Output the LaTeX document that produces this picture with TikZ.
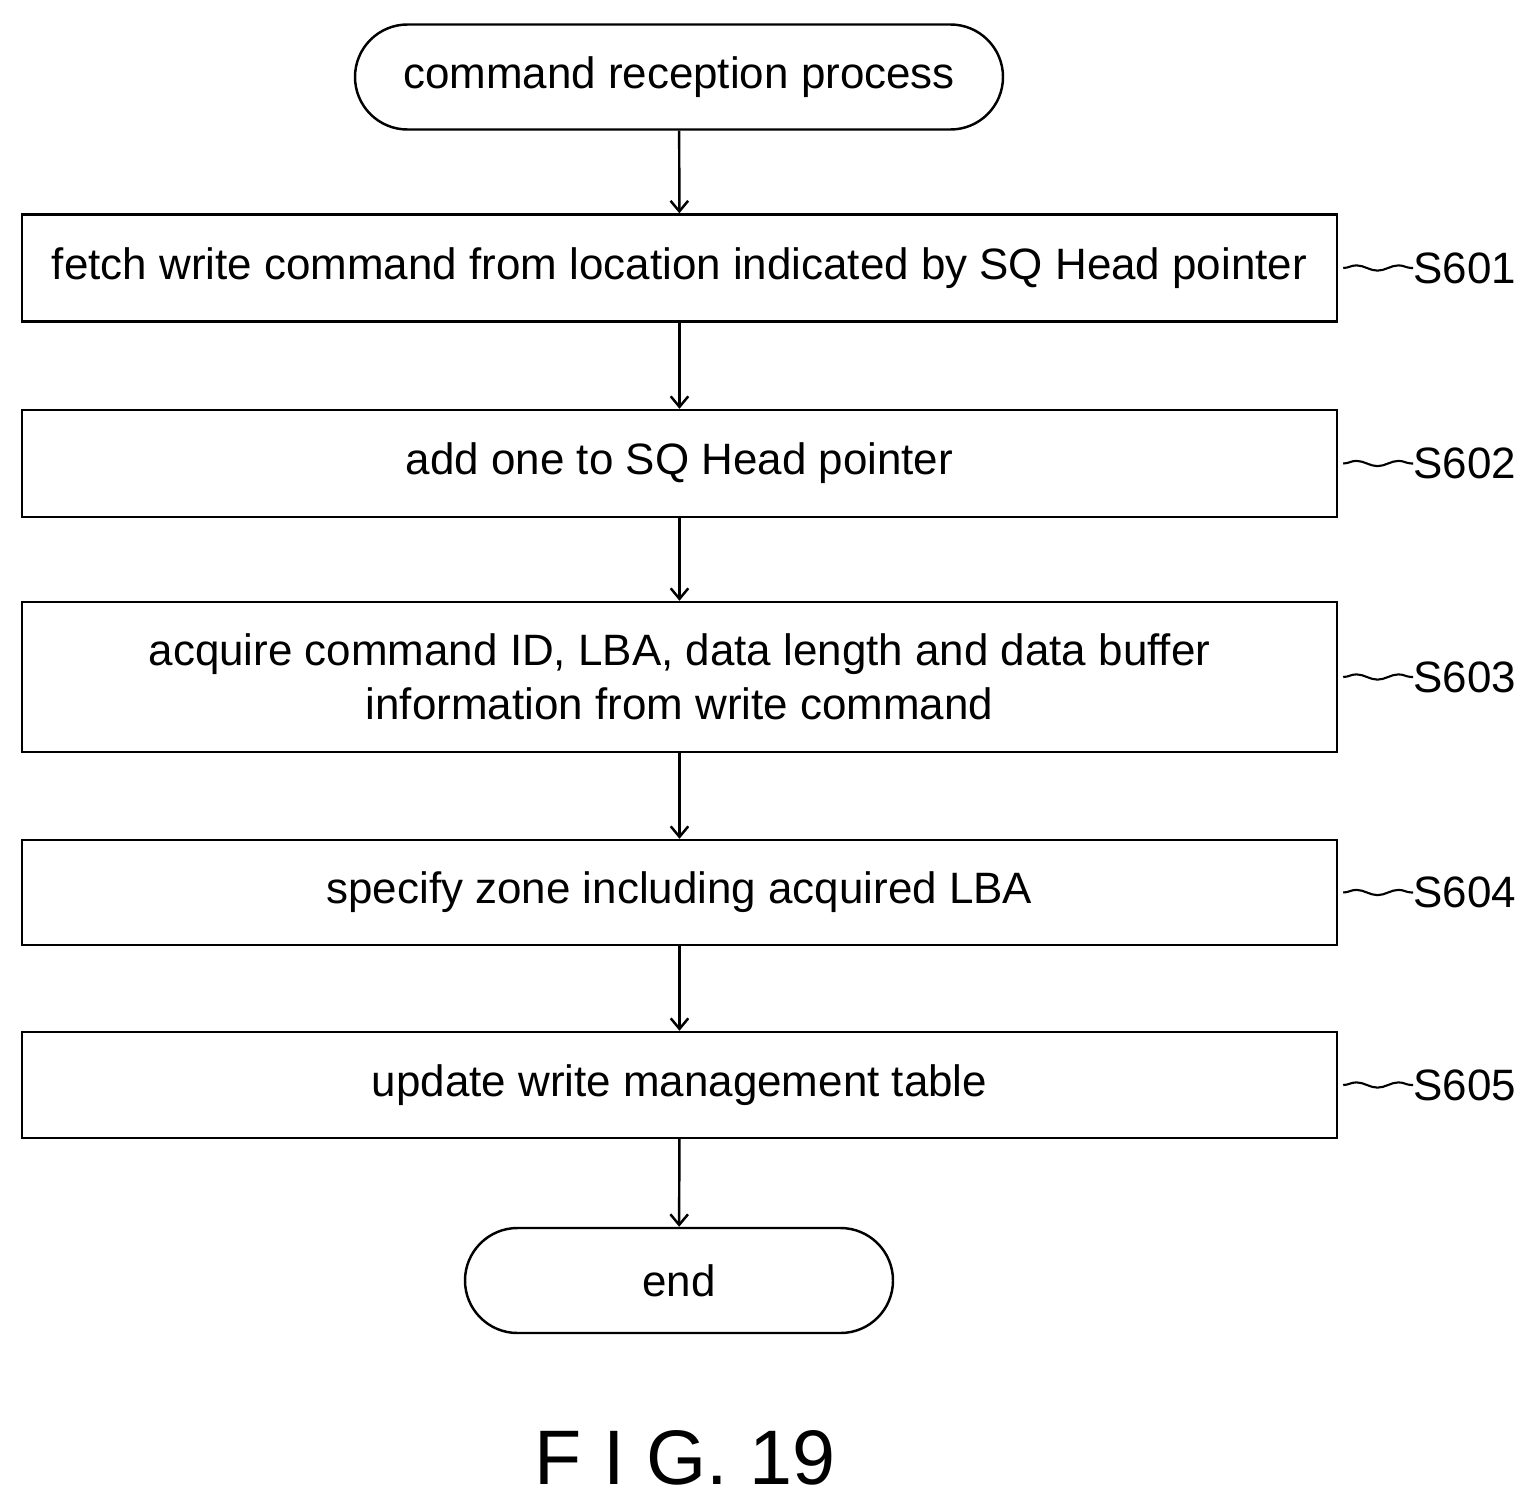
\documentclass[tikz,border=0pt]{standalone}
\usepackage{fontspec}
\setmainfont{Liberation Sans}
\usetikzlibrary{arrows.meta,shapes.misc,decorations.pathmorphing}
\tikzset{
  procbox/.style={draw, line width=1.4pt, minimum width=26.3cm, align=center,
    inner sep=0pt, font=\fontsize{25}{31}\selectfont},
  term/.style={draw, line width=1.4pt, rounded rectangle, inner sep=0pt,
    minimum height=2.1cm, font=\fontsize{25}{31}\selectfont},
  flow/.style={line width=1.4pt, -{Straight Barb[length=6pt,width=10pt]}},
  tag/.style={line width=1.2pt, decorate,
    decoration={snake, amplitude=1.5pt, segment length=24pt}},
  taglabel/.style={anchor=west, inner sep=0pt, font=\fontsize{25}{31}\selectfont}
}
\begin{document}
\begin{tikzpicture}
  \useasboundingbox (0,0) rectangle (30.74,-30.22);
  \node[term, minimum width=12.96cm] (start) at (13.58,-1.54) {command reception process};
  \node[procbox, minimum height=2.14cm] (s1) at (13.59,-5.36) {fetch write command from location indicated by SQ Head pointer};
  \node[procbox, minimum height=2.14cm] (s2) at (13.59,-9.27) {add one to SQ Head pointer};
  \node[procbox, minimum height=3.0cm] (s3) at (13.59,-13.54) {acquire command ID, LBA, data length and data buffer\\information from write command};
  \node[procbox, minimum height=2.1cm] (s4) at (13.59,-17.85) {specify zone including acquired LBA};
  \node[procbox, minimum height=2.12cm] (s5) at (13.59,-21.7) {update write management table};
  \node[term, minimum width=8.56cm] (stop) at (13.58,-25.61) {end};

  \draw[flow] (start) -- (s1);
  \draw[flow] (s1) -- (s2);
  \draw[flow] (s2) -- (s3);
  \draw[flow] (s3) -- (s4);
  \draw[flow] (s4) -- (s5);
  \draw[flow] (s5) -- (stop);

  % step labels
  \foreach \s/\t in {s1/S601,s2/S602,s3/S603,s4/S604,s5/S605}{
    \coordinate (\s tag) at ([xshift=1.5cm]\s.east);
    \draw[tag] ([xshift=0.1cm]\s.east) -- (\s tag);
    \node[taglabel] at (\s tag) {\t};
  }

  \node[font=\fontsize{44}{50}\selectfont] (fig) at (13.7,-29.15) {F I G. 19};
\end{tikzpicture}
\end{document}
